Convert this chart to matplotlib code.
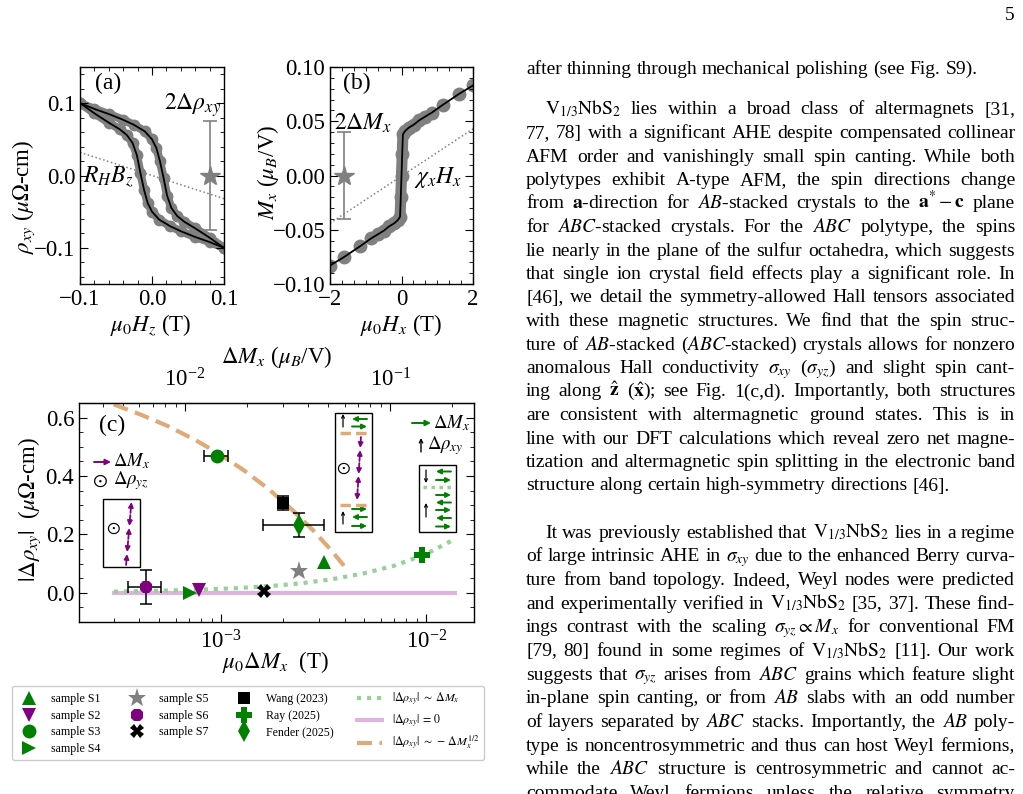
import matplotlib
matplotlib.use('Agg')
import matplotlib.pyplot as plt
from matplotlib.ticker import MultipleLocator, NullFormatter
from matplotlib.lines import Line2D
from matplotlib.patches import Rectangle, FancyArrowPatch

plt.rcParams['font.family'] = ['Liberation Serif', 'DejaVu Serif']
plt.rcParams['mathtext.fontset'] = 'stix'

# ---------------- data ----------------
# panel (a): Hall resistivity hysteresis loop
hz_branch_dn = [-0.100, -0.080, -0.060, -0.040, -0.025, -0.010, 0.000, 0.006, 0.011,
                0.016, 0.021, 0.027, 0.035, 0.045, 0.060, 0.080, 0.100]
rho_branch_dn = [0.100, 0.092, 0.085, 0.077, 0.070, 0.061, 0.050, 0.038, 0.020,
                 -0.003, -0.028, -0.045, -0.056, -0.064, -0.073, -0.086, -0.100]
hz_branch_up = [-0.100, -0.080, -0.060, -0.045, -0.035, -0.027, -0.021, -0.016, -0.011,
                -0.006, 0.000, 0.010, 0.025, 0.040, 0.060, 0.080, 0.100]
rho_branch_up = [0.100, 0.086, 0.073, 0.064, 0.056, 0.045, 0.028, 0.003, -0.020,
                 -0.038, -0.050, -0.061, -0.070, -0.077, -0.085, -0.092, -0.100]
rh_line_h = [-0.1, 0.1]
rh_line_rho = [0.032, -0.032]
star_a_h, star_a_rho, star_a_err = [0.08], [0.0], [0.076]

# panel (b): magnetization
hx_vals = [-2.0, -1.6, -1.15, -0.85, -0.65, -0.5, -0.35, -0.2, -0.1, -0.04, -0.02, 0.0,
           0.02, 0.04, 0.1, 0.2, 0.35, 0.5, 0.65, 0.85, 1.15, 1.6, 2.0]
mx_vals = [-0.083, -0.075, -0.065, -0.058, -0.054, -0.051, -0.047, -0.044, -0.041, -0.038,
           -0.020, 0.000, 0.020, 0.038, 0.041, 0.044, 0.047, 0.051, 0.054, 0.058, 0.065,
           0.075, 0.083]
chi_line_h = [-2.0, 2.0]
chi_line_m = [-0.044, 0.043]
star_b_h, star_b_m, star_b_err = [-1.6], [0.0], [0.040]

# panel (c): |Delta rho_xy| vs mu0 Delta M_x
dm_conversion = 15.0   # mu_B/V per T (top axis)
samples = ['sample S1', 'sample S2', 'sample S3', 'sample S4', 'sample S5',
           'sample S6', 'sample S7', 'Wang (2023)', 'Ray (2025)', 'Fender (2025)']
dm_x = [3.18e-3, 7.84e-4, 9.53e-4, 7.06e-4, 2.40e-3, 4.30e-4, 1.62e-3, 2.00e-3, 9.50e-3, 2.40e-3]
drho = [0.107, 0.008, 0.470, 0.001, 0.076, 0.020, 0.007, 0.307, 0.130, 0.233]
dm_x_lo = [None, None, 8.26e-4, None, None, 3.50e-4, None, None, None, 1.60e-3]
dm_x_hi = [None, None, 1.08e-3, None, None, 5.10e-4, None, None, None, 3.18e-3]
drho_err = [None, None, None, None, None, 0.057, None, 0.025, None, 0.042]

lin_dm = [3.0e-4, 5.0e-4, 8.0e-4, 1.2e-3, 1.8e-3, 2.5e-3, 3.5e-3, 5.0e-3, 7.0e-3, 1.0e-2, 1.38e-2]
lin_rho = [0.004, 0.007, 0.011, 0.016, 0.024, 0.033, 0.047, 0.067, 0.093, 0.133, 0.184]
zero_dm = [3.0e-4, 1.38e-2]
zero_rho = [0.0, 0.0]
sqrt_dm = [3.0e-4, 4.0e-4, 5.5e-4, 7.5e-4, 1.0e-3, 1.3e-3, 1.7e-3, 2.2e-3, 2.8e-3, 3.4e-3, 4.1e-3]
sqrt_rho = [0.645, 0.612, 0.571, 0.523, 0.472, 0.418, 0.356, 0.287, 0.215, 0.150, 0.081]

# body text
para1 = ["after thinning through mechanical polishing (see Fig. S9)."]
para2 = [
    r"$\mathrm{V}_{1/3}\mathrm{NbS}_2$ lies within a broad class of altermagnets [31,",
    "77, 78] with a significant AHE despite compensated collinear",
    "AFM order and vanishingly small spin canting. While both",
    "polytypes exhibit A-type AFM, the spin directions change",
    r"from $\mathbf{a}$-direction for $AB$-stacked crystals to the $\mathbf{a}^{*}-\mathbf{c}$ plane",
    r"for $ABC$-stacked crystals. For the $ABC$ polytype, the spins",
    "lie nearly in the plane of the sulfur octahedra, which suggests",
    "that single ion crystal field effects play a significant role. In",
    "[46], we detail the symmetry-allowed Hall tensors associated",
    "with these magnetic structures. We find that the spin struc-",
    r"ture of $AB$-stacked ($ABC$-stacked) crystals allows for nonzero",
    r"anomalous Hall conductivity $\sigma_{xy}$ ($\sigma_{yz}$) and slight spin cant-",
    r"ing along $\hat{\mathbf{z}}$ ($\hat{\mathbf{x}}$); see Fig. 1(c,d). Importantly, both structures",
    "are consistent with altermagnetic ground states. This is in",
    "line with our DFT calculations which reveal zero net magne-",
    "tization and altermagnetic spin splitting in the electronic band",
    "structure along certain high-symmetry directions [46].",
]
para3 = [
    r"It was previously established that $\mathrm{V}_{1/3}\mathrm{NbS}_2$ lies in a regime",
    r"of large intrinsic AHE in $\sigma_{xy}$ due to the enhanced Berry curva-",
    "ture from band topology. Indeed, Weyl nodes were predicted",
    r"and experimentally verified in $\mathrm{V}_{1/3}\mathrm{NbS}_2$ [35, 37]. These find-",
    r"ings contrast with the scaling $\sigma_{yz}\propto M_x$ for conventional FM",
    r"[79, 80] found in some regimes of $\mathrm{V}_{1/3}\mathrm{NbS}_2$ [11]. Our work",
    r"suggests that $\sigma_{yz}$ arises from $ABC$ grains which feature slight",
    r"in-plane spin canting, or from $AB$ slabs with an odd number",
    r"of layers separated by $ABC$ stacks. Importantly, the $AB$ poly-",
    "type is noncentrosymmetric and thus can host Weyl fermions,",
    r"while the $ABC$ structure is centrosymmetric and cannot ac-",
    "commodate Weyl fermions unless the relative symmetry",
]

# ---------------- figure ----------------
W, H = 1023, 794
fig = plt.figure(figsize=(W / 100, H / 100), dpi=100)


def fx(px):
    return px / W


def fy(py):
    return 1 - py / H


GREEN, PURPLE, GRAY = '#008000', '#800080', '#808080'
LGREEN, LPURPLE, TAN = '#98d098', '#dcb4dc', '#dfaa78'
FS = 16.5


def style(ax):
    ax.tick_params(which='both', direction='in', top=True, right=True, labelsize=FS)
    ax.tick_params(which='major', length=6, width=0.8)
    ax.tick_params(which='minor', length=3, width=0.6)
    for s in ax.spines.values():
        s.set_linewidth(1.0)


# ---- panel (a)
ax_a = fig.add_axes([fx(80), fy(284), (224 - 80) / W, (284 - 67) / H])
style(ax_a)
for hh, rr in [(hz_branch_dn, rho_branch_dn), (hz_branch_up, rho_branch_up)]:
    ax_a.plot(hh, rr, color=GRAY, lw=6, solid_capstyle='round', zorder=1)
    ax_a.plot(hh, rr, 'o', color=GRAY, ms=7.5, zorder=1)
for hh, rr in [(hz_branch_dn, rho_branch_dn), (hz_branch_up, rho_branch_up)]:
    ax_a.plot(hh, rr, color='black', lw=1.3, zorder=3)
ax_a.plot(rh_line_h, rh_line_rho, ls=':', color=GRAY, lw=1.1, zorder=2)
ax_a.errorbar(star_a_h, star_a_rho, yerr=star_a_err, fmt='*', color=GRAY, ms=15,
              capsize=5, elinewidth=1.2, capthick=1.2, zorder=4)
ax_a.set_xlim(-0.1, 0.1)
ax_a.set_ylim(-0.15, 0.15)
ax_a.xaxis.set_major_locator(MultipleLocator(0.1))
ax_a.xaxis.set_minor_locator(MultipleLocator(0.02))
ax_a.yaxis.set_major_locator(MultipleLocator(0.1))
ax_a.yaxis.set_minor_locator(MultipleLocator(0.02))
fig.text(fx(108), fy(83), '(a)', fontsize=17, ha='center', va='center')
fig.text(fx(221), fy(105), r'$2\Delta\rho_{xy}$', fontsize=17, ha='right', va='center')
fig.text(fx(83), fy(177), r'$R_HB_z$', fontsize=17, ha='left', va='center')
fig.text(fx(24), fy(197), r'$\rho_{xy}$ ($\mu\Omega$-cm)', fontsize=FS, rotation=90,
         ha='center', va='center')
fig.text(fx(151), fy(325), r'$\mu_0H_z$ (T)', fontsize=FS, ha='center', va='center')

# ---- panel (b)
ax_b = fig.add_axes([fx(330), fy(284), (473 - 330) / W, (284 - 67) / H])
style(ax_b)
ax_b.plot(hx_vals[4:-4], mx_vals[4:-4], color=GRAY, lw=8, solid_capstyle='round', zorder=1)
ax_b.plot(hx_vals, mx_vals, 'o', color=GRAY, ms=9, zorder=1)
ax_b.plot(hx_vals, mx_vals, color='black', lw=1.3, zorder=3)
ax_b.plot(chi_line_h, chi_line_m, ls=':', color=GRAY, lw=1.1, zorder=2)
ax_b.errorbar(star_b_h, star_b_m, yerr=star_b_err, fmt='*', color=GRAY, ms=15,
              capsize=5, elinewidth=1.2, capthick=1.2, zorder=4)
ax_b.set_xlim(-2, 2)
ax_b.set_ylim(-0.10, 0.10)
ax_b.xaxis.set_major_locator(MultipleLocator(2))
ax_b.xaxis.set_minor_locator(MultipleLocator(1 / 3))
ax_b.yaxis.set_major_locator(MultipleLocator(0.05))
ax_b.yaxis.set_minor_locator(MultipleLocator(0.01))
fig.text(fx(357), fy(83), '(b)', fontsize=17, ha='center', va='center')
fig.text(fx(363), fy(123), r'$2\Delta M_x$', fontsize=17, ha='center', va='center')
fig.text(fx(438), fy(177), r'$\chi_xH_x$', fontsize=17, ha='center', va='center')
fig.text(fx(268), fy(172), r'$M_x$ ($\mu_B$/V)', fontsize=FS, rotation=90,
         ha='center', va='center')
fig.text(fx(401), fy(325), r'$\mu_0H_x$ (T)', fontsize=FS, ha='center', va='center')

# ---- panel (c)
ax_c = fig.add_axes([fx(79), fy(622), (474 - 79) / W, (622 - 403) / H])
style(ax_c)
ax_c.set_xscale('log')
ax_c.set_xlim(2.03e-4, 1.71e-2)
ax_c.set_ylim(-0.10, 0.65)
ax_c.yaxis.set_major_locator(MultipleLocator(0.2))
ax_c.yaxis.set_minor_locator(MultipleLocator(0.05))
ax_c.xaxis.set_minor_formatter(NullFormatter())
ax_c.tick_params(which='both', top=False)
ax_c.tick_params(axis='x', which='major', pad=6)

l_zero, = ax_c.plot(zero_dm, zero_rho, color=LPURPLE, lw=3, zorder=1,
                    label=r'$|\Delta\rho_{xy}|\,=\,0$')
l_lin, = ax_c.plot(lin_dm, lin_rho, color=LGREEN, lw=3, ls=(0, (1, 1.4)), zorder=1,
                   label=r'$|\Delta\rho_{xy}|\;\sim\;\Delta M_x$')
l_sqrt, = ax_c.plot(sqrt_dm, sqrt_rho, color=TAN, lw=3, dashes=(3.6, 1.8), zorder=1,
                    label=r'$|\Delta\rho_{xy}|\;\sim\,-\,\Delta M_x^{1/2}$')

mk = ['^', 'v', 'o', '>', '*', '8', 'X', 's', 'P', 'd']
cols = [GREEN, PURPLE, GREEN, GREEN, GRAY, PURPLE, 'black', 'black', GREEN, GREEN]
sizes = [10, 10, 10, 10, 14, 10, 10, 9, 11, 11]
handles = []
for i in range(len(samples)):
    if dm_x_lo[i] is not None or drho_err[i] is not None:
        xe = None
        if dm_x_lo[i] is not None:
            xe = [[dm_x[i] - dm_x_lo[i]], [dm_x_hi[i] - dm_x[i]]]
        ye = None if drho_err[i] is None else [drho_err[i]]
        ax_c.errorbar([dm_x[i]], [drho[i]], xerr=xe, yerr=ye, fmt='none', ecolor='black',
                      elinewidth=1.1, capsize=4, capthick=1.1, zorder=3)
    h, = ax_c.plot([dm_x[i]], [drho[i]], ls='none', marker=mk[i], color=cols[i],
                   ms=sizes[i], mew=0, zorder=4, label=samples[i])
    handles.append(h)

sec = ax_c.secondary_xaxis('top', functions=(lambda x: x * dm_conversion,
                                              lambda x: x / dm_conversion))
sec.tick_params(which='both', direction='in', labelsize=FS, pad=8)
sec.tick_params(which='major', length=6, width=0.8)
sec.tick_params(which='minor', length=3, width=0.6)
sec.xaxis.set_minor_formatter(NullFormatter())

fig.text(fx(277), fy(357), r'$\Delta M_x$ ($\mu_B$/V)', fontsize=FS, ha='center', va='center')
fig.text(fx(276), fy(662), r'$\mu_0\Delta M_x$  (T)', fontsize=FS, ha='center', va='center')
fig.text(fx(30), fy(510), r'$|\Delta\rho_{xy}|$  ($\mu\Omega$-cm)', fontsize=FS, rotation=90,
         ha='center', va='center')
fig.text(fx(112), fy(425), '(c)', fontsize=17, ha='center', va='center')


# ---- schematic insets in (c)
def arrow(p0, p1, color, lw=1.2, ms=7, style='-|>'):
    fig.add_artist(FancyArrowPatch(
        (fx(p0[0]), fy(p0[1])), (fx(p1[0]), fy(p1[1])), transform=fig.transFigure,
        arrowstyle=style, mutation_scale=ms, color=color, lw=lw, shrinkA=0, shrinkB=0))


def box(x0, y0, x1, y1):
    fig.add_artist(Rectangle((fx(x0), fy(y1)), (x1 - x0) / W, (y1 - y0) / H,
                             transform=fig.transFigure, fill=False, ec='black', lw=1.0))


def hline(x0, x1, y, **kw):
    fig.add_artist(Line2D([fx(x0), fx(x1)], [fy(y), fy(y)], transform=fig.transFigure, **kw))


def spin_column(top, bot, n, first_up, color):
    for i in range(n):
        t0 = i / n + 0.08 / n
        t1 = (i + 1) / n - 0.08 / n
        a = (top[0] + (bot[0] - top[0]) * t0, top[1] + (bot[1] - top[1]) * t0)
        b = (top[0] + (bot[0] - top[0]) * t1, top[1] + (bot[1] - top[1]) * t1)
        up = first_up if i % 2 == 0 else not first_up
        if up:
            arrow(b, a, color, lw=1.3, ms=7)
        else:
            arrow(a, b, color, lw=1.3, ms=7)


def green_row(y, right, x0, x1):
    if right:
        arrow((x0, y), (x1, y), GREEN, lw=1.4, ms=7)
    else:
        arrow((x1, y), (x0, y), GREEN, lw=1.4, ms=7)


# inset 1
box(103, 499, 140, 567)
fig.text(fx(113), fy(528), r'$\odot$', fontsize=13, ha='center', va='center')
spin_column((131.5, 501), (126, 566), 5, True, PURPLE)
# inset 2
box(335, 413, 372, 532)
arrow((343, 427), (343, 414), 'black', lw=0.9, ms=5, style='->')
green_row(419, False, 352, 367)
green_row(426.5, True, 352, 367)
hline(340, 367, 432.5, color=TAN, lw=2.5, dashes=(3, 1.5))
spin_column((361, 436), (357, 501), 5, False, PURPLE)
fig.text(fx(343.5), fy(468), r'$\odot$', fontsize=13, ha='center', va='center')
hline(340, 367, 504.5, color=TAN, lw=2.5, dashes=(3, 1.5))
arrow((343, 524), (343, 511), 'black', lw=0.9, ms=5, style='->')
green_row(509, True, 352, 367)
green_row(517, False, 352, 367)
green_row(526, True, 352, 367)
# inset 3
box(419, 465, 456, 532)
arrow((426, 470), (426, 483), 'black', lw=0.9, ms=5, style='->')
green_row(471.5, False, 436, 451)
green_row(480, True, 436, 451)
hline(423, 454, 487, color=LGREEN, lw=2.5, ls=(0, (1, 1.3)))
arrow((426, 517), (426, 503), 'black', lw=0.9, ms=5, style='->')
green_row(495, True, 436, 451)
green_row(502.5, False, 436, 451)
green_row(510, True, 436, 451)
green_row(518, False, 436, 451)
green_row(526.5, True, 436, 451)
# inset legends
arrow((412, 423), (431, 423), GREEN, lw=1.4, ms=8)
fig.text(fx(433), fy(423), r'$\Delta M_x$', fontsize=13.5, ha='left', va='center')
arrow((421, 452), (421, 438), 'black', lw=1.0, ms=6, style='->')
fig.text(fx(427), fy(446), r'$\Delta\rho_{xy}$', fontsize=13.5, ha='left', va='center')
arrow((94, 462), (111, 462), PURPLE, lw=1.4, ms=8)
fig.text(fx(113), fy(461), r'$\Delta M_x$', fontsize=13.5, ha='left', va='center')
fig.text(fx(100), fy(481), r'$\odot$', fontsize=14, ha='center', va='center')
fig.text(fx(113), fy(481), r'$\Delta\rho_{yz}$', fontsize=13.5, ha='left', va='center')

# ---- legend
fig.legend(handles=handles + [l_lin, l_zero, l_sqrt], ncol=4, loc='upper left',
           bbox_to_anchor=(fx(12), fy(686)), borderaxespad=0, fontsize=8.6, frameon=True,
           edgecolor='#cccccc', fancybox=True, framealpha=1, handlelength=2.1,
           handletextpad=0.8, columnspacing=1.95, labelspacing=0.38, borderpad=0.4)

# ---------------- body text ----------------
renderer = fig.canvas.get_renderer()
BODY = 14.0
X0, X1 = 526, 1015


def split_tokens(s):
    toks, cur, inmath = [], '', False
    for ch in s:
        if ch == '$':
            inmath = not inmath
            cur += ch
        elif ch == ' ' and not inmath:
            if cur:
                toks.append(cur)
            cur = ''
        else:
            cur += ch
    if cur:
        toks.append(cur)
    return toks


def place_line(s, yc, x0, x1, justify):
    toks = split_tokens(s)
    arts = [fig.text(0, fy(yc + 5.5), t, fontsize=BODY, ha='left', va='baseline')
            for t in toks]
    widths = [a.get_window_extent(renderer).width for a in arts]
    if justify and len(toks) > 1:
        gap = (x1 - x0 - sum(widths)) / (len(toks) - 1)
    else:
        gap = BODY * 100 / 72 * 0.25
    x = x0
    for a, w in zip(arts, widths):
        a.set_x(fx(x))
        x += w + gap


def place_para(lines, y0, pitch, indent, last_full=False):
    for i, s in enumerate(lines):
        x0 = X0 + (indent if i == 0 else 0)
        last = (i == len(lines) - 1) and not last_full
        place_line(s, y0 + i * pitch, x0, X1, not last)


fig.text(fx(1015), fy(14 + 5.5), '5', fontsize=BODY, ha='right', va='baseline')
place_para(para1, 68, 23.5, 0)
place_para(para2, 109, 23.5, 19)
place_para(para3, 532, 23.7, 19, last_full=True)

fig.savefig('out.png', dpi=100)
